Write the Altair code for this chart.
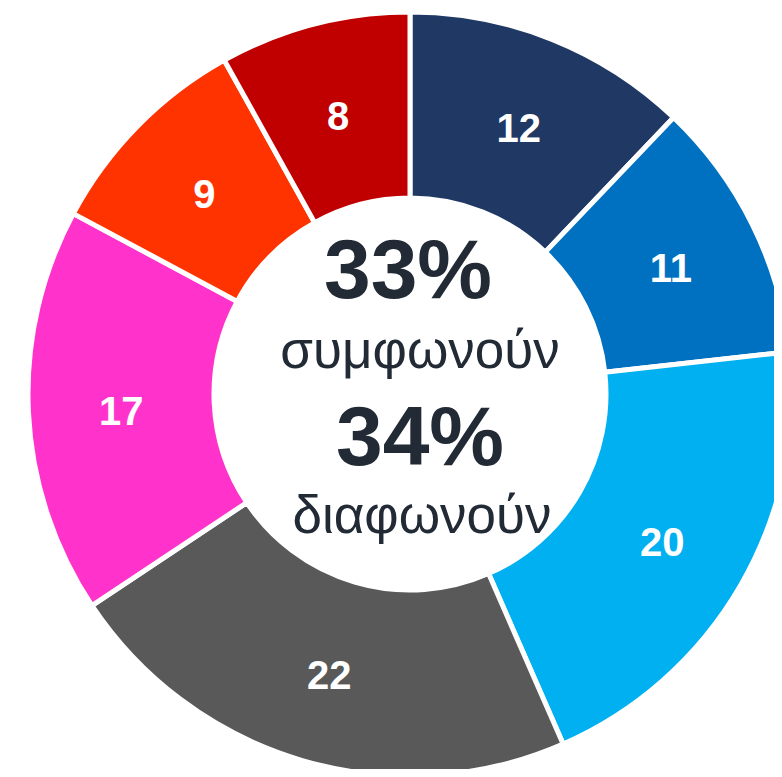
import altair as alt
import pandas as pd

values = [12, 11, 20, 22, 17, 9, 8]
colors = ["#1F3864", "#0070C0", "#00B0F0", "#595959", "#FF33CC", "#FF3300", "#C00000"]
center_lines = ["33%", "συμφωνούν", "34%", "διαφωνούν"]
center_sizes = [84, 53, 84, 53]
center_weights = ["bold", "normal", "bold", "normal"]
center_x = [408, 420, 420, 422]
center_baselines = [298, 368, 465, 533]

df = pd.DataFrame({
    "order": list(range(len(values))),
    "value": values,
    "label": [str(v) for v in values],
    "color": colors,
})

CX, CY = 402, 386  # arc centre in plot coordinates

base = alt.Chart(df).encode(
    theta=alt.Theta("value:Q", stack=True),
    order=alt.Order("order:Q"),
)

arcs = base.mark_arc(
    radius=382, radius2=196, stroke="white", strokeWidth=5, clip=True
).encode(
    color=alt.Color("color:N", scale=None),
    x=alt.value(CX), y=alt.value(CY),
)

labels = base.mark_text(
    radius=290, font="Liberation Sans", fontWeight="bold", fontSize=40,
    color="white", baseline="middle", align="center", dx=1, dy=5
).encode(text="label:N", x=alt.value(CX), y=alt.value(CY))

layers = [arcs, labels]
for txt, size, w, cx, b in zip(center_lines, center_sizes, center_weights, center_x, center_baselines):
    layers.append(
        alt.Chart(pd.DataFrame({"t": [txt]})).mark_text(
            font="Liberation Sans", fontSize=size, fontWeight=w, color="#222A35",
            align="center", baseline="alphabetic"
        ).encode(text="t:N", x=alt.value(cx - 8), y=alt.value(b - 8))
    )

chart = alt.layer(*layers).properties(
    width=766, height=761, padding=0
).configure_view(stroke=None)

chart.save("out.html", embed_options={"renderer": "svg", "actions": False})
